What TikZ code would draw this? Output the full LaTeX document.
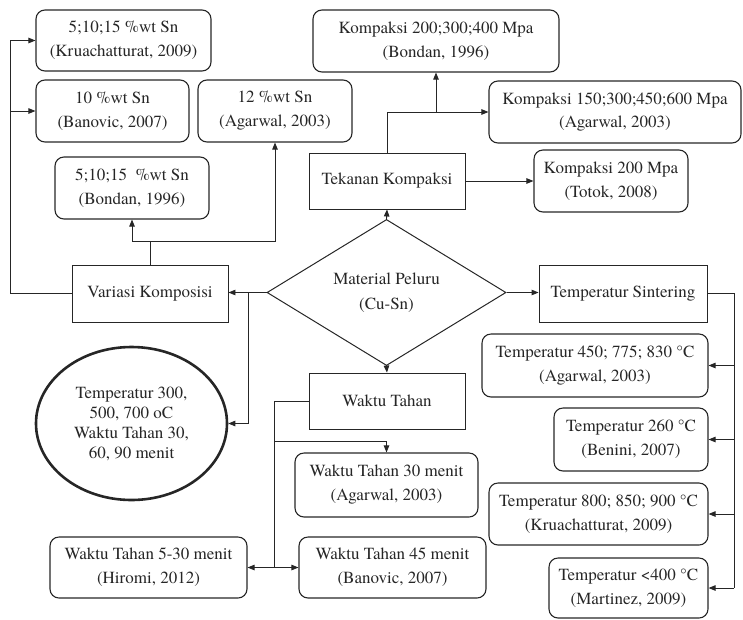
\documentclass[tikz,border=0pt]{standalone}
\usepackage{fontspec}
\newfontfamily\tnr{texgyretermes-regular.otf}
\usetikzlibrary{shapes.geometric,arrows.meta}
\begin{document}
\begin{tikzpicture}[x=1pt,y=-1pt,
 base/.style={draw=black!85, line width=1.1pt, align=center, inner sep=0pt, text=black!85, font=\tnr\fontsize{17}{24}\selectfont},
 rbox/.style={base, rounded corners=9pt},
 sbox/.style={base, line width=0.9pt},
 sz/.style 2 args={minimum width=#1pt, minimum height=#2pt},
 conn/.style={draw=black!85, line width=0.9pt},
 arr/.style={conn, -{Triangle[length=7pt,width=5.5pt]}},
]
\useasboundingbox (0,0) rectangle (743,619);

% left group
\node[rbox, sz={175}{61}] (kru) at (123.5,40.5) {5;10;15 \%wt Sn\\(Kruachatturat, 2009)};
\node[rbox, sz={153}{62}] (ban) at (112.5,111) {10 \%wt Sn\\(Banovic, 2007)};
\node[rbox, sz={154}{62}] (aga12) at (275,111) {12 \%wt Sn\\(Agarwal, 2003)};
\node[rbox, sz={154}{62}] (bon) at (132,188) {5;10;15 \ \%wt Sn\\(Bondan, 1996)};
\node[sbox, sz={156}{57}] (var) at (150,293.5) {Variasi Komposisi};

% top group
\node[rbox, sz={246}{62}] (k2) at (436,41) {Kompaksi 200;300;400 Mpa\\(Bondan, 1996)};
\node[rbox, sz={252}{62}] (k1) at (615,112) {Kompaksi 150;300;450;600 Mpa\\(Agarwal, 2003)};
\node[sbox, sz={156}{56}] (tek) at (387,181) {Tekanan Kompaksi};
\node[rbox, sz={154}{62}] (tot) at (611,181) {Kompaksi 200 Mpa\\(Totok, 2008)};

% centre
\node[base, diamond, line width=1pt, sz={239}{109}, font=\tnr\fontsize{17}{25}\selectfont] (dia) at (386.5,292.5) {Material Peluru\\(Cu-Sn)};
\node[base, ellipse, line width=2.6pt, sz={191}{153}, font=\tnr\fontsize{17}{20}\selectfont] (ell) at (131.5,423.5) {Temperatur 300,\\500, 700 oC\\Waktu Tahan 30,\\60, 90 menit};

% right group
\node[sbox, sz={168}{57}] (ts) at (623,293.5) {Temperatur Sintering};
\node[rbox, sz={226}{63}] (t450) at (595,365.5) {Temperatur 450; 775; 830 °C\\(Agarwal, 2003)};
\node[rbox, sz={154}{63}] (t260) at (631,439.5) {Temperatur 260 °C\\(Benini, 2007)};
\node[rbox, sz={219}{62}] (t800) at (598.5,514) {Temperatur 800; 850; 900 °C\\(Kruachatturat, 2009)};
\node[rbox, sz={159}{60}] (t400) at (628.5,588) {Temperatur <400 °C\\(Martinez, 2009)};

% bottom group
\node[sbox, sz={156}{56}] (wt) at (387,401) {Waktu Tahan};
\node[rbox, sz={183}{64}] (wt30) at (386.5,485) {Waktu Tahan 30 menit\\(Agarwal, 2003)};
\node[rbox, sz={187}{61}] (wt45) at (392.5,567.5) {Waktu Tahan 45 menit\\(Banovic, 2007)};
\node[rbox, sz={197}{61}] (hir) at (148.5,567.5) {Waktu Tahan 5-30 menit\\(Hiromi, 2012)};

% helper coordinates
\coordinate (L) at (10,0);
\coordinate (vb) at (150,241);
\coordinate (b1) at (248,292.5);
\coordinate (R) at (734,0);
\coordinate (W) at (274,0);
\coordinate (wb) at (274,441);

% connectors: composition
\draw[arr] (dia.west) -- (dia.west -| var.east);
\draw[arr] (b1) |- (ell.east);
\draw[arr] (var.west) -- (var.west -| L) |- (kru.west);
\draw[arr] (L |- ban.west) -- (ban.west);
\draw[conn] (var.north) -- (vb);
\draw[arr] (vb) -| (bon.south);
\draw[arr] (vb) -| (aga12.south);

% connectors: compaction
\draw[arr] (dia.north) -- (tek.south);
\draw[arr] (tek.north) |- (k1.west);
\draw[arr] (k2.south |- k1.west) -- (k2.south);
\draw[arr] (tek.east) -- (tot.west);

% connectors: sintering
\draw[arr] (dia.east) -- (dia.east -| ts.west);
\draw[conn] (ts.east) -| (R |- t400.east);
\draw[arr] (R |- t450.east) -- (t450.east);
\draw[arr] (R |- t260.east) -- (t260.east);
\draw[arr] (R |- t800.east) -- (t800.east);
\draw[arr] (R |- t400.east) -- (t400.east);

% connectors: holding time
\draw[arr] (dia.south) -- (wt.north);
\draw[conn] (wt.west) -| (W |- hir.east);
\draw[arr] (wb) -| (wt30.north);
\draw[arr] (W |- hir.east) -- (hir.east);
\draw[arr] (W |- hir.east) -- (wt45.west);
\end{tikzpicture}
\end{document}
